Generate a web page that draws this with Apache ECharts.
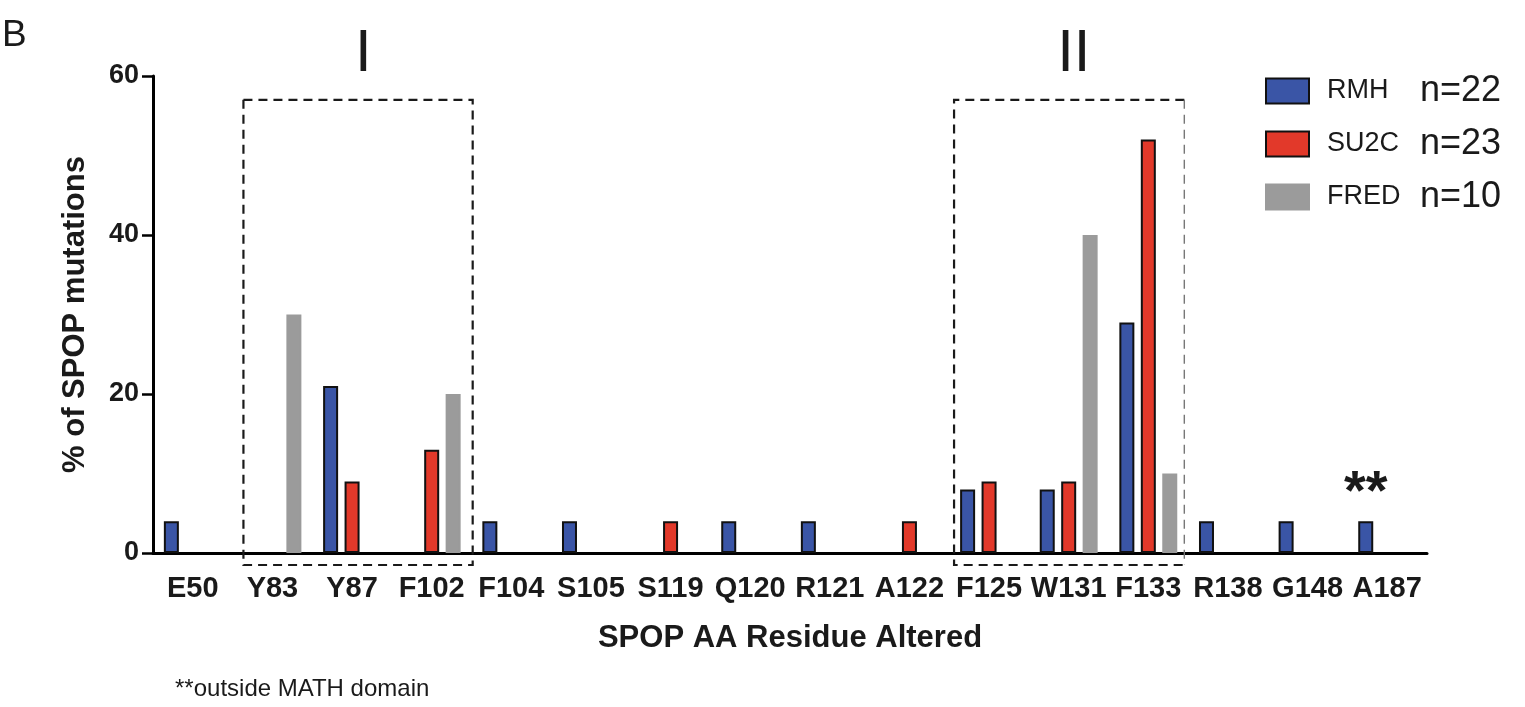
<!DOCTYPE html>
<html>
<head>
<meta charset="utf-8">
<script src="https://cdn.jsdelivr.net/npm/echarts@6/dist/echarts.min.js"></script>
<style>
  html, body { margin: 0; padding: 0; background: #fff; }
  #chart { width: 1525px; height: 707px; }
</style>
</head>
<body>
<div id="chart"></div>
<script>
// residues on the x axis
const residues = ['E50', 'Y83', 'Y87', 'F102', 'F104', 'S105', 'S119', 'Q120', 'R121', 'A122', 'F125', 'W131', 'F133', 'R138', 'G148', 'A187'];
// % of SPOP mutations per cohort (0 = no bar)
const rmh  = [4, 0, 21, 0, 4, 4, 0, 4, 4, 0, 8, 8, 29, 4, 4, 4];
const su2c = [0, 0, 9, 13, 0, 0, 4, 0, 0, 4, 9, 9, 52, 0, 0, 0];
const fred = [0, 30, 0, 20, 0, 0, 0, 0, 0, 0, 0, 40, 10, 0, 0, 0];
const cohorts = ['RMH', 'SU2C', 'FRED'];
const cohortN = ['n=22', 'n=23', 'n=10'];
const yTicks = [0, 20, 40, 60];

const FONT = '"Liberation Sans", Arial, Helvetica, sans-serif';
const INK = '#1a1a1a';

const chart = echarts.init(document.getElementById('chart'));

function toBars(arr) {
    return arr.map(v => (v === 0 ? null : v));
}

// blue bar of A187 carries the "**" mark
const rmhData = toBars(rmh).map((v, i) => {
    if (residues[i] === 'A187') {
        return {
            value: v,
            label: {
                show: true, position: 'top', distance: 0,
                formatter: '**', fontSize: 56, fontWeight: 'bold',
                color: INK, fontFamily: FONT
            }
        };
    }
    return v;
});

const option = {
    animation: false,
    backgroundColor: '#fff',
    grid: { left: 153, top: 76, width: 1274, height: 477 },
    legend: {
        orient: 'vertical',
        left: 1260,
        top: 68,
        itemWidth: 43,
        itemHeight: 25,
        itemGap: 17,
        icon: 'rect',
        data: cohorts,
        formatter: function (name) {
            return '{a|' + name + '}{b|' + cohortN[cohorts.indexOf(name)] + '}';
        },
        textStyle: {
            rich: {
                a: { fontSize: 27, fontFamily: FONT, color: INK, width: 93, padding: [0, 0, 0, 13] },
                b: { fontSize: 36, fontFamily: FONT, color: INK }
            }
        }
    },
    xAxis: {
        type: 'category',
        data: residues,
        boundaryGap: true,
        name: 'SPOP AA Residue Altered',
        nameLocation: 'middle',
        nameGap: 70,
        nameTextStyle: { fontSize: 31, fontWeight: 'bold', color: INK, fontFamily: FONT },
        axisLine: { lineStyle: { color: '#000', width: 3 } },
        axisTick: { alignWithLabel: true, length: 11, lineStyle: { color: '#000', width: 2.5 } },
        axisLabel: { fontSize: 29, fontWeight: 'bold', color: INK, fontFamily: FONT, margin: 21, interval: 0 }
    },
    yAxis: {
        type: 'value',
        min: yTicks[0],
        max: yTicks[yTicks.length - 1],
        interval: yTicks[1] - yTicks[0],
        name: '% of SPOP mutations',
        nameLocation: 'middle',
        nameGap: 62,
        nameTextStyle: { fontSize: 31, fontWeight: 'bold', color: INK, fontFamily: FONT },
        axisLine: { show: true, lineStyle: { color: '#000', width: 3 } },
        axisTick: { show: true, length: 11, lineStyle: { color: '#000', width: 2.5 } },
        axisLabel: { fontSize: 27, fontWeight: 'bold', color: INK, fontFamily: FONT, margin: 14 },
        splitLine: { show: false }
    },
    series: [
        {
            name: 'RMH', type: 'bar', data: rmhData,
            barWidth: 15, barGap: '43%',
            itemStyle: { color: '#3a55a6', borderColor: '#111', borderWidth: 2 }
        },
        {
            name: 'SU2C', type: 'bar', data: toBars(su2c),
            barWidth: 15, barGap: '43%',
            itemStyle: { color: '#e2392a', borderColor: '#111', borderWidth: 2 }
        },
        {
            name: 'FRED', type: 'bar', data: toBars(fred),
            barWidth: 15, barGap: '43%',
            itemStyle: { color: '#9b9b9b', borderColor: '#9b9b9b', borderWidth: 2 }
        }
    ]
};

chart.setOption(option);

// dashed boxes around the two hotspot regions
function px(cat) { return chart.convertToPixel({ xAxisIndex: 0 }, cat); }
function py(val) { return chart.convertToPixel({ yAxisIndex: 0 }, val); }

const boxTop = py(57);
const boxBottom = py(0) + 12;
const dash = { stroke: '#1a1a1a', lineWidth: 2.2, lineDash: [9, 6] };

const b1l = px('Y83') - 29, b1r = px('F102') + 41;
const b2l = px('F125') - 35, b2r = px('F133') + 36;

chart.setOption({
    graphic: [
        { type: 'polyline', shape: { points: [[b1l, boxTop], [b1r, boxTop], [b1r, boxBottom], [b1l, boxBottom], [b1l, boxTop]] }, style: Object.assign({ fill: null }, dash), z: 10 },
        { type: 'polyline', shape: { points: [[b2r, boxTop], [b2l, boxTop], [b2l, boxBottom], [b2r, boxBottom]] }, style: Object.assign({ fill: null }, dash), z: 10 },
        { type: 'line', shape: { x1: b2r, y1: boxTop, x2: b2r, y2: boxBottom }, style: { stroke: '#777', lineWidth: 1.4, lineDash: [9, 6] }, z: 10 },
        { type: 'text', left: (b1l + b1r) / 2 - 3, top: 24, style: { text: 'I', fontSize: 60, fontFamily: FONT, fill: INK } },
        { type: 'text', left: (b2l + b2r) / 2 - 12, top: 24, style: { text: 'II', fontSize: 60, fontFamily: FONT, fill: INK } },
        { type: 'text', left: 2, top: 17, style: { text: 'B', fontSize: 37, fontFamily: FONT, fill: INK } },
        { type: 'text', left: 175, top: 677, style: { text: '**outside MATH domain', fontSize: 24, fontFamily: FONT, fill: INK } }
    ]
});
</script>
</body>
</html>
